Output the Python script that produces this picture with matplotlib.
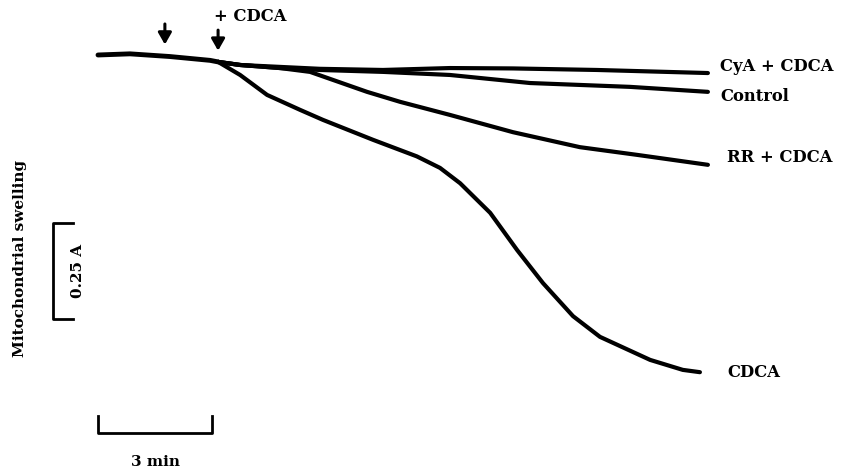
import numpy as np
import matplotlib
matplotlib.use("Agg")
from matplotlib import pyplot as plt

# time in min, absorbance change in A (0 = start of trace)
t_base = [0, 0.84, 1.89, 2.95, 3.16]
a_base = [0, 0.003, -0.004, -0.014, -0.018]

t_cdca = [3.16, 3.74, 4.45, 5.32, 5.92, 7.24, 8.39, 9.0, 9.53, 10.32, 11.03, 11.71, 12.5, 13.21, 14.53, 15.39, 15.84]
a_cdca = [-0.018, -0.052, -0.104, -0.143, -0.169, -0.221, -0.264, -0.294, -0.334, -0.411, -0.508, -0.594, -0.680, -0.734, -0.794, -0.820, -0.826]

t_rr = [3.16, 3.74, 4.79, 5.58, 7.08, 7.95, 9.26, 10.92, 12.68, 14.18, 16.05]
a_rr = [-0.018, -0.026, -0.034, -0.044, -0.096, -0.122, -0.156, -0.201, -0.240, -0.260, -0.286]

t_ctrl = [3.16, 3.74, 4.79, 5.84, 7.5, 9.26, 11.37, 14.0, 16.05]
a_ctrl = [-0.018, -0.026, -0.034, -0.039, -0.044, -0.052, -0.073, -0.083, -0.096]

t_cya = [3.16, 3.74, 4.79, 5.84, 7.5, 9.26, 10.92, 13.13, 16.05]
a_cya = [-0.018, -0.026, -0.031, -0.036, -0.039, -0.034, -0.035, -0.039, -0.047]

labels = ["CyA + CDCA", "Control", "RR + CDCA", "CDCA"]
label_t = [16.37, 16.37, 16.55, 16.55]
label_a = [-0.031, -0.109, -0.268, -0.826]

fig = plt.figure(figsize=(8.49, 4.70), dpi=100)
ax = fig.add_axes([0, 0, 1, 1])
ax.set_xlim(-2.579, 19.763)
ax.set_ylim(-1.0807, 0.1432)
ax.axis("off")

lw = 3.0
for t, a in [(t_cdca, a_cdca), (t_rr, a_rr), (t_ctrl, a_ctrl), (t_cya, a_cya)]:
    ax.plot(t, a, color="black", lw=lw, solid_capstyle="round", solid_joinstyle="round")
ax.plot(t_base, a_base, color="black", lw=lw + 0.5, solid_capstyle="round")

font = dict(family="DejaVu Serif", fontweight="bold", fontsize=11)
big = dict(font, fontsize=11.8)
for lab, t, a in zip(labels, label_t, label_a):
    ax.text(t, a, lab, va="center", ha="left", **big)

# addition arrows
arr = dict(arrowstyle="-|>,head_width=0.4,head_length=0.7", color="black", lw=2.2)
ax.annotate("", xy=(1.76, 0.020), xytext=(1.76, 0.088), arrowprops=arr)
ax.annotate("", xy=(3.16, 0.004), xytext=(3.16, 0.072), arrowprops=arr)
ax.text(3.05, 0.099, "+ CDCA", va="center", ha="left", **big)

# scale bars
ax.plot([0, 0, 3, 3], [-0.94, -0.984, -0.984, -0.94], color="black", lw=2)
ax.text(1.5, -1.06, "3 min", ha="center", va="center", **font)

ax.plot([-0.65, -1.184, -1.184, -0.65], [-0.4375, -0.4375, -0.6875, -0.6875], color="black", lw=2)
ax.text(-0.52, -0.5625, "0.25 A", rotation=90, ha="center", va="center", **font)
ax.text(-2.05, -0.53, "Mitochondrial swelling", rotation=90, ha="center", va="center", **font)

fig.savefig("out.png", dpi=100)
